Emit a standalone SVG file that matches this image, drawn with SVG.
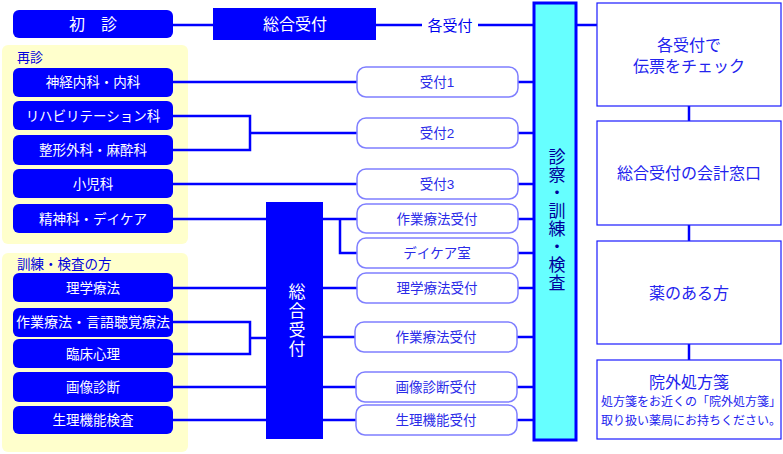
<svg xmlns="http://www.w3.org/2000/svg" width="783" height="454" viewBox="0 0 783 454">
<style>
text{font-family:"Liberation Sans","Noto Sans CJK JP",sans-serif;}
.panel{fill:#ffffcc;}
.dept{fill:#0000ff;}
.dt{fill:#ffffff;font-size:13.5px;text-anchor:middle;dominant-baseline:central;}
.rec{fill:#ffffff;stroke:#7f7fff;stroke-width:1.5;}
.rt{fill:#2b2be8;font-size:13.5px;text-anchor:middle;dominant-baseline:central;}
.box{fill:#ffffff;stroke:#1a1aff;stroke-width:1.2;}
.bt{fill:#2323ee;font-size:16px;text-anchor:middle;dominant-baseline:central;}
.st{fill:#2323ee;font-size:12px;text-anchor:middle;dominant-baseline:central;}
.lbl{fill:#0000dd;font-size:13px;dominant-baseline:central;}
.conn path{fill:none;stroke:#0000ff;stroke-width:2.5;}
</style>
<g id="panel-saishin"><rect class="panel" x="2" y="45" width="186" height="199" rx="6"/><text class="lbl" x="17" y="57">再診</text></g>
<g id="panel-kunren"><rect class="panel" x="2" y="253" width="186" height="199" rx="6"/><text class="lbl" x="17" y="264" style="font-size:13.5px">訓練・検査の方</text></g>

<g class="conn" id="connectors">
<path d="M173 25H213"/>
<path d="M376 25H422"/><path d="M478 25H533"/>
<path d="M577 25H597"/>
<path d="M689 106V121"/><path d="M689 225V241"/><path d="M689 344V360"/>
<path d="M173 82H357"/>
<path d="M173 116H250V150H173"/><path d="M250 133H357"/>
<path d="M173 184H357"/>
<path d="M173 219H266"/><path d="M323 219H357"/><path d="M340 219V253H357"/>
<path d="M173 288H266"/><path d="M323 288H357"/>
<path d="M173 322H250V354H173"/><path d="M250 338H266"/><path d="M323 337H355"/>
<path d="M173 387H266"/><path d="M323 387H356"/>
<path d="M173 420H266"/><path d="M323 420H356"/>
<path d="M518 82H533"/><path d="M518 133H533"/><path d="M518 184H533"/><path d="M518 219H533"/><path d="M518 253H533"/><path d="M518 288H533"/><path d="M517 337H533"/><path d="M517 387H533"/><path d="M517 420H533"/>
</g>
<g id="kakuuketsuke-label"><text x="450" y="25" style="fill:#0000ee;font-size:15px;text-anchor:middle;dominant-baseline:central">各受付</text></g>

<g id="shoshin"><rect class="dept" x="13" y="10" width="160" height="28" rx="6"/><text class="dt" x="93" y="24" style="font-size:16px">初　診</text></g>
<g id="sougou-top"><rect class="dept" x="213" y="8" width="163" height="32"/><text class="dt" x="295" y="24" style="font-size:16px">総合受付</text></g>

<g id="d1"><rect class="dept" x="13" y="68" width="160" height="29" rx="6"/><text class="dt" x="93" y="82">神経内科・内科</text></g>
<g id="d2"><rect class="dept" x="13" y="101" width="160" height="29" rx="6"/><text class="dt" x="93" y="116">リハビリテーション科</text></g>
<g id="d3"><rect class="dept" x="13" y="135" width="160" height="30" rx="6"/><text class="dt" x="93" y="150">整形外科・麻酔科</text></g>
<g id="d4"><rect class="dept" x="13" y="169" width="160" height="29" rx="6"/><text class="dt" x="93" y="184">小児科</text></g>
<g id="d5"><rect class="dept" x="13" y="204" width="160" height="29" rx="6"/><text class="dt" x="93" y="219">精神科・デイケア</text></g>
<g id="d6"><rect class="dept" x="13" y="273" width="160" height="29" rx="6"/><text class="dt" x="93" y="288">理学療法</text></g>
<g id="d7"><rect class="dept" x="13" y="308" width="160" height="29" rx="6"/><text class="dt" x="93" y="322" style="font-size:14px">作業療法・言語聴覚療法</text></g>
<g id="d8"><rect class="dept" x="13" y="339" width="160" height="29" rx="6"/><text class="dt" x="93" y="354">臨床心理</text></g>
<g id="d9"><rect class="dept" x="13" y="372" width="160" height="30" rx="6"/><text class="dt" x="93" y="387">画像診断</text></g>
<g id="d10"><rect class="dept" x="13" y="406" width="160" height="28" rx="6"/><text class="dt" x="93" y="420">生理機能検査</text></g>

<g id="sougou-mid"><rect class="dept" x="266" y="202" width="57" height="237"/><text x="295" y="321" style="fill:#ffffff;font-size:17px;writing-mode:vertical-rl;text-anchor:middle;letter-spacing:2px">総合受付</text></g>

<g id="r1"><rect class="rec" x="357" y="67" width="161" height="30" rx="9"/><text class="rt" x="437" y="82">受付1</text></g>
<g id="r2"><rect class="rec" x="357" y="118" width="161" height="30" rx="9"/><text class="rt" x="437" y="133">受付2</text></g>
<g id="r3"><rect class="rec" x="357" y="169" width="161" height="30" rx="9"/><text class="rt" x="437" y="184">受付3</text></g>
<g id="r4"><rect class="rec" x="357" y="204" width="161" height="29" rx="9"/><text class="rt" x="437" y="219">作業療法受付</text></g>
<g id="r5"><rect class="rec" x="357" y="238" width="161" height="30" rx="9"/><text class="rt" x="437" y="253">デイケア室</text></g>
<g id="r6"><rect class="rec" x="357" y="273" width="161" height="30" rx="9"/><text class="rt" x="437" y="288">理学療法受付</text></g>
<g id="r7"><rect class="rec" x="355" y="322" width="162" height="30" rx="9"/><text class="rt" x="436" y="337">作業療法受付</text></g>
<g id="r8"><rect class="rec" x="356" y="372" width="161" height="30" rx="9"/><text class="rt" x="436" y="387">画像診断受付</text></g>
<g id="r9"><rect class="rec" x="356" y="405" width="161" height="30" rx="9"/><text class="rt" x="436" y="420">生理機能受付</text></g>

<g id="shinsatsu"><rect x="534" y="3" width="42" height="437" style="fill:#66ffff;stroke:#0000ff;stroke-width:3"/><text x="555" y="220" style="fill:#000099;font-size:17px;writing-mode:vertical-rl;text-anchor:middle;letter-spacing:1px">診察・訓練・検査</text></g>

<g id="b1"><rect class="box" x="597" y="3" width="184" height="103"/><text class="bt" x="689" y="45">各受付で</text><text class="bt" x="689" y="66">伝票をチェック</text></g>
<g id="b2"><rect class="box" x="597" y="121" width="184" height="104"/><text class="bt" x="689" y="173">総合受付の会計窓口</text></g>
<g id="b3"><rect class="box" x="597" y="241" width="184" height="103"/><text class="bt" x="689" y="293">薬のある方</text></g>
<g id="b4"><rect class="box" x="597" y="360" width="184" height="79"/><text class="bt" x="689" y="382">院外処方箋</text><text class="st" x="691" y="402">処方箋をお近くの「院外処方箋」</text><text class="st" x="691" y="421">取り扱い薬局にお持ちください。</text></g>
</svg>
